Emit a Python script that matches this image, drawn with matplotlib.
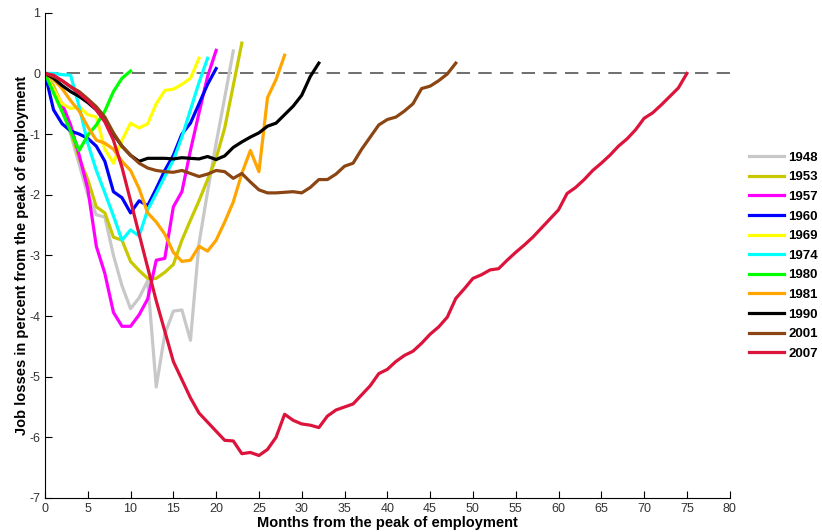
import matplotlib
matplotlib.use('Agg')
import matplotlib.pyplot as plt

plt.rcParams['font.family'] = ['Liberation Sans', 'DejaVu Sans']
plt.rcParams['axes.unicode_minus'] = False

# job losses (percent from peak) by month
y1948 = [0, -0.25, -0.6, -1.0, -1.5, -2.0, -2.33, -2.37, -3.0, -3.5, -3.88, -3.7,
         -3.42, -5.17, -4.3, -3.92, -3.9, -4.4, -2.8, -1.95, -1.15, -0.4, 0.37]
y1953 = [0, -0.2, -0.55, -0.95, -1.4, -1.75, -2.2, -2.3, -2.7, -2.75, -3.1, -3.25,
         -3.38, -3.38, -3.28, -3.15, -2.75, -2.42, -2.1, -1.75, -1.4, -0.9, -0.2, 0.5]
y1957 = [0, -0.25, -0.5, -0.85, -1.35, -1.9, -2.85, -3.3, -3.94, -4.17, -4.17, -3.98,
         -3.72, -3.08, -3.05, -2.2, -1.95, -1.27, -0.65, -0.05, 0.38]
y1960 = [0, -0.6, -0.83, -0.95, -1.0, -1.07, -1.2, -1.45, -1.95, -2.05, -2.3, -2.1,
         -2.18, -1.9, -1.6, -1.35, -1.0, -0.82, -0.5, -0.18, 0.08]
y1969 = [0, -0.25, -0.5, -0.58, -0.55, -0.68, -0.72, -1.25, -1.48, -1.1, -0.82, -0.9,
         -0.83, -0.5, -0.28, -0.26, -0.18, -0.08, 0.25]
y1974 = [0, 0.0, -0.02, -0.03, -0.55, -1.15, -1.6, -1.97, -2.35, -2.75, -2.58, -2.68,
         -2.25, -1.98, -1.7, -1.43, -1.05, -0.6, -0.15, 0.25]
y1980 = [0, -0.32, -0.63, -0.95, -1.27, -1.02, -0.85, -0.62, -0.3, -0.08, 0.04]
y1981 = [0, -0.1, -0.25, -0.45, -0.62, -0.88, -1.1, -1.15, -1.25, -1.45, -1.6, -1.9,
         -2.3, -2.45, -2.65, -2.95, -3.1, -3.08, -2.85, -2.93, -2.75, -2.45, -2.12,
         -1.65, -1.27, -1.62, -0.4, -0.1, 0.3]
y1990 = [0, -0.08, -0.2, -0.3, -0.38, -0.48, -0.6, -0.78, -1.0, -1.2, -1.35, -1.45,
         -1.4, -1.4, -1.4, -1.41, -1.39, -1.4, -1.41, -1.37, -1.42, -1.36, -1.22,
         -1.13, -1.05, -0.98, -0.87, -0.82, -0.68, -0.54, -0.36, -0.05, 0.17]
y2001 = [0, -0.05, -0.12, -0.22, -0.3, -0.42, -0.55, -0.72, -0.98, -1.2, -1.35, -1.48,
         -1.56, -1.6, -1.62, -1.63, -1.6, -1.65, -1.7, -1.66, -1.6, -1.62, -1.73,
         -1.65, -1.79, -1.92, -1.97, -1.97, -1.96, -1.95, -1.97, -1.88, -1.75, -1.75,
         -1.66, -1.53, -1.48, -1.25, -1.05, -0.85, -0.76, -0.72, -0.62, -0.5, -0.25,
         -0.21, -0.12, -0.01, 0.17]
y2007 = [0, -0.03, -0.12, -0.22, -0.33, -0.45, -0.6, -0.8, -1.1, -1.55, -2.1, -2.65,
         -3.2, -3.75, -4.25, -4.75, -5.05, -5.35, -5.6, -5.75, -5.9, -6.05, -6.06,
         -6.27, -6.25, -6.3, -6.2, -6.0, -5.62, -5.72, -5.78, -5.8, -5.84, -5.65,
         -5.55, -5.5, -5.45, -5.3, -5.15, -4.95, -4.88, -4.75, -4.65, -4.58, -4.45,
         -4.3, -4.18, -4.02, -3.71, -3.55, -3.38, -3.32, -3.24, -3.22, -3.08, -2.95,
         -2.83, -2.7, -2.55, -2.4, -2.25, -1.98, -1.88, -1.75, -1.6, -1.48, -1.35,
         -1.2, -1.08, -0.93, -0.74, -0.65, -0.52, -0.38, -0.24, 0]

years = ['1948', '1953', '1957', '1960', '1969', '1974', '1980', '1981', '1990', '2001', '2007']
series = [y1948, y1953, y1957, y1960, y1969, y1974, y1980, y1981, y1990, y2001, y2007]
colors = ['#c8c8c8', '#c8c800', '#ff00ff', '#0000ff', '#ffff00', '#00ffff',
          '#00ff00', '#ffa500', '#000000', '#8b4513', '#dc143c']

fig = plt.figure(figsize=(8.22, 5.32), dpi=100)
ax = fig.add_axes([0.0547, 0.064, 0.833, 0.912])

ax.plot([0, 80], [0, 0], color='#555555', lw=1.2, dashes=(8, 5), zorder=1)
for yr, vals, c in zip(years, series, colors):
    ax.plot(range(len(vals)), vals, color=c, lw=2.3, label=yr, solid_joinstyle='round')

ax.set_xlim(0, 80)
ax.set_ylim(-7, 1)
ax.set_xticks(range(0, 81, 5))
ax.set_yticks(range(-7, 2))
ax.spines['top'].set_visible(False)
ax.spines['right'].set_visible(False)
ax.tick_params(direction='in', length=5, labelsize=9, labelcolor='#333333')
ax.set_xlabel('Months from the peak of employment', fontsize=10.5, fontweight='bold', labelpad=1)
ax.set_ylabel('Job losses in percent from the peak of employment', fontsize=10.5,
              fontweight='bold', labelpad=0)

leg = ax.legend(loc='upper left', bbox_to_anchor=(1.02, 0.725), frameon=False,
                prop={'weight': 'bold', 'size': 9.5}, handlelength=2.7,
                handletextpad=0.3, labelspacing=0.56, borderaxespad=0)

fig.savefig('out.png', dpi=100)
